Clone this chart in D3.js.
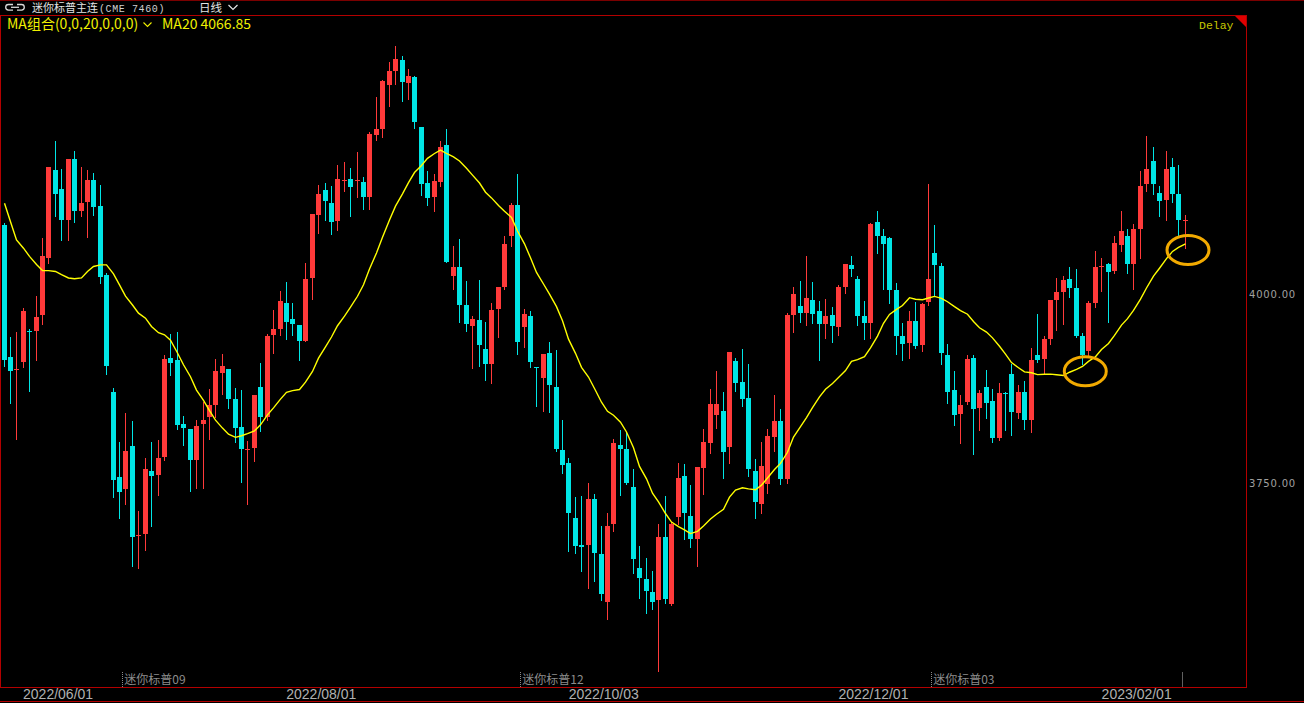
<!DOCTYPE html>
<html><head><meta charset="utf-8">
<script src="https://cdn.jsdelivr.net/npm/d3@7"></script>
<style>html,body{margin:0;padding:0;background:#000;overflow:hidden}</style>
</head><body><svg id="c" width="1304" height="703"></svg>
<script>
// ---------- data ----------
const opens = [4091.2,3916.6,3901.0,3910.7,3951.5,3950.6,3972.0,4047.6,4164.0,4138.7,4097.2,4178.0,4110.1,4121.4,4150.5,4116.0,4025.0,3870.8,3758.1,3743.0,
3799.1,3681.5,3683.2,3766.2,3761.4,3784.5,3915.0,3912.3,3828.2,3822.3,3780.8,3828.2,3837.4,3853.5,3896.1,3900.4,3861.1,3824.4,3794.8,3797.0,
3877.8,3837.9,3946.2,3953.8,3987.8,3966.7,3959.2,3938.2,4021.2,4104.7,4137.6,4120.3,4096.6,4150.5,4151.6,4150.0,4147.8,4127.9,4209.8,4217.9,
4276.6,4294.4,4309.0,4278.8,4286.4,4220.6,4146.8,4127.9,4147.8,4197.4,4024.4,4035.2,3986.1,3958.1,3966.2,3927.9,3907.0,3980.2,4009.3,4076.7,
4117.6,3957.0,3971.0,3903.6,3889.6,3922.5,3877.8,3793.7,3776.5,3704.8,3668.5,3668.1,3729.0,3656.3,3592.7,3696.2,3800.7,3795.9,3745.2,3638.0,
3623.4,3606.7,3595.9,3679.4,3590.5,3705.8,3759.8,3707.0,3676.7,3770.5,3802.9,3840.6,3844.9,3798.0,3911.7,3883.7,3862.7,3766.2,3722.5,3749.5,
3811.5,3832.5,3756.0,3972.7,3984.0,3974.3,3992.1,3977.5,3960.8,3972.1,3957.0,4009.3,4038.4,4019.5,3971.6,3961.9,4094.5,4077.2,4074.0,4005.5,
3944.6,3935.5,3964.6,3932.8,3988.8,4054.0,4036.8,3919.3,3873.5,3841.7,3856.8,3915.0,3849.8,3877.3,3858.4,3809.9,3869.2,3894.5,3842.2,3870.8,
3833.0,3918.8,3913.9,3940.9,3991.5,4002.8,4019.5,4007.7,3944.6,3924.7,3987.8,4036.8,4039.0,4029.8,4064.8,4076.7,4039.0,4085.8,4145.7,4175.9,
4133.3,4123.6,4167.2,4132.2,4097.7];
const highs = [4094.0,3943.0,3950.0,3982.0,3954.3,3997.4,4073.4,4168.0,4202.3,4164.5,4178.0,4188.8,4167.8,4164.0,4160.2,4144.0,4028.2,3876.2,3804.5,3843.3,
3832.5,3713.4,3782.9,3804.5,3807.0,3919.8,3947.3,3950.0,3839.5,3822.3,3833.0,3857.3,3874.6,3913.9,3921.4,3901.5,3876.2,3873.5,3806.1,3866.5,
3909.1,3947.3,3978.6,4003.9,4015.8,3988.3,3959.2,4041.6,4105.2,4144.0,4146.8,4143.0,4170.0,4173.7,4166.2,4187.7,4154.3,4213.6,4260.0,4283.1,
4305.8,4327.9,4314.9,4296.6,4288.0,4220.6,4161.8,4158.6,4201.7,4217.4,4063.2,4072.4,4017.4,3970.5,4019.0,3963.5,3987.8,4009.3,4076.7,4119.8,
4158.6,3980.7,3977.5,3904.2,3921.4,3936.5,3925.8,3833.0,3783.0,3731.7,3732.8,3750.6,3736.0,3694.0,3710.2,3808.3,3820.6,3818.0,3769.5,3667.0,
3652.0,3634.7,3696.7,3733.3,3699.4,3776.5,3774.9,3747.9,3771.6,3821.7,3874.6,3897.7,3870.8,3923.1,3915.0,3927.4,3906.9,3781.8,3804.5,3822.3,
3866.5,3848.7,3974.3,4009.3,4017.4,4050.8,4015.8,3990.4,3993.1,3982.4,4012.0,4040.0,4049.7,4023.9,3990.4,4093.9,4110.1,4085.8,4075.1,4014.2,
3961.9,3977.5,3989.4,3987.8,4145.7,4091.2,4041.6,3933.8,3897.7,3866.5,3918.8,3919.3,3873.0,3899.9,3874.6,3882.6,3870.8,3906.9,3880.0,3885.4,
3928.5,3973.2,3944.6,3992.1,4021.2,4023.9,4035.7,4033.6,3948.4,3990.4,4056.7,4047.0,4041.6,4076.7,4109.0,4085.8,4091.8,4162.9,4208.7,4194.2,
4142.4,4188.8,4179.1,4170.5,4104.7];
const lows = [3905.0,3855.7,3808.0,3904.0,3871.9,3913.4,3960.8,4041.6,4102.6,4071.3,4071.3,4095.5,4103.6,4075.1,4104.7,4014.7,3894.5,3731.7,3704.8,3722.6,
3641.2,3638.5,3661.7,3693.0,3734.4,3781.3,3892.4,3821.7,3800.7,3739.8,3743.6,3743.6,3808.3,3837.4,3868.1,3849.2,3804.5,3752.2,3723.1,3779.7,
3819.1,3834.1,3922.0,3946.2,3940.9,3945.2,3913.4,3938.2,3993.7,4081.0,4097.2,4079.4,4084.8,4136.0,4103.6,4127.9,4112.8,4112.8,4202.8,4207.1,
4248.1,4277.2,4254.6,4257.3,4219.5,4130.6,4117.6,4110.1,4142.4,4042.7,4006.6,3963.5,3951.6,3902.6,3905.3,3887.0,3882.6,3943.0,4006.6,4063.2,
3920.4,3930.1,3904.2,3851.9,3846.0,3843.8,3792.1,3763.0,3660.6,3657.9,3634.7,3612.1,3621.3,3595.9,3571.1,3687.0,3734.4,3749.5,3632.0,3598.6,
3578.1,3584.6,3501.6,3591.6,3588.9,3696.7,3676.7,3666.0,3641.2,3736.0,3789.4,3823.4,3757.6,3776.5,3871.9,3851.9,3759.8,3703.7,3710.2,3737.1,
3792.1,3749.5,3750.6,3950.0,3962.4,3959.2,3961.9,3912.3,3941.9,3936.5,3945.2,4001.2,4024.4,3959.7,3940.3,3942.0,4054.0,4006.6,3987.8,3921.4,
3913.4,3916.1,3928.5,3924.1,3985.1,3997.0,3908.0,3855.7,3827.6,3802.9,3854.1,3788.3,3820.6,3836.8,3804.5,3807.2,3820.6,3813.6,3836.8,3822.3,
3818.0,3909.6,3896.1,3933.8,3952.7,3960.8,3995.8,3943.0,3906.9,3917.7,3982.4,4003.9,3963.5,4027.1,4056.2,4028.2,4006.6,4048.1,4136.0,4131.7,
4102.6,4098.2,4120.9,4077.8,4060.5];
const closes = [3913.4,3897.7,3901.5,3977.5,3950.0,3969.4,4050.3,4167.8,4131.7,4097.2,4178.0,4109.0,4120.3,4150.5,4115.5,4022.8,3905.3,3753.8,3738.7,3793.2,
3679.4,3682.0,3768.9,3760.3,3784.0,3914.0,3909.0,3827.1,3822.8,3780.8,3825.5,3833.6,3853.5,3898.3,3905.3,3861.1,3823.4,3795.9,3795.3,3866.5,
3837.9,3944.6,3953.8,3991.0,3962.4,3960.8,3938.2,4020.1,4105.2,4132.2,4122.5,4095.5,4152.1,4151.0,4141.4,4150.5,4127.9,4211.4,4218.4,4281.5,
4294.4,4310.1,4279.9,4288.0,4227.6,4145.7,4126.8,4148.9,4194.7,4042.7,4035.2,3986.1,3960.8,3967.3,3932.8,3908.0,3978.6,4009.3,4065.9,4117.6,
3936.5,3973.2,3909.6,3903.1,3921.4,3879.4,3795.9,3773.8,3711.2,3667.1,3666.5,3729.0,3658.4,3603.4,3694.0,3802.9,3795.9,3750.6,3649.8,3625.5,
3607.8,3592.7,3679.4,3597.0,3696.7,3757.1,3710.2,3676.7,3771.6,3804.5,3854.1,3854.1,3791.0,3923.1,3882.6,3861.1,3768.4,3725.2,3772.2,3812.6,
3832.5,3756.0,3972.7,3999.6,3974.3,3994.8,3973.2,3960.8,3971.0,3958.1,4009.3,4039.0,4033.6,3971.0,3961.9,4092.3,4076.7,4065.9,4005.5,3944.6,
3933.8,3964.6,3931.2,3986.7,4020.1,4037.9,3922.0,3870.8,3840.6,3853.0,3914.0,3847.6,3868.6,3855.7,3809.9,3869.2,3868.6,3843.8,3870.8,3833.0,
3912.8,3913.4,3940.3,3992.1,4002.8,4018.5,4007.7,3944.6,3919.3,3987.8,4036.3,4037.3,4029.3,4067.5,4083.7,4039.0,4085.8,4142.4,4165.1,4145.7,
4122.5,4165.6,4131.7,4097.2,4098.2];
// MA20 values before enough bars are visible
const maHead = [4119.8,4095.5,4071.3,4060.5,4049.7,4039.0,4030.9,4030.9,4029.8,4025.5,4021.2,4020.1,4021.2,4029.8,4036.3,4038.4,4038.4,4026.6,4012.0];
const maPeriod = 20;
const tickLabels = ["2022/06/01","2022/08/01","2022/10/03","2022/12/01","2023/02/01"];
const tickIndex = [9,50,94,136,177];
const contractLabels = ["迷你标普09","迷你标普12","迷你标普03"];
const contractIndex = [19,81,145];
const priceTicks = [3750,4000];
const markIndex = [168.5,184.5];
const markPrice = [3898,4058];
const titleName = "迷你标普主连";
const titleCode = "(CME  7460)";
const periodLabel = "日线";
const maLabel = "MA组合(0,0,20,0,0,0)";
const maValueLabel = "MA20 4066.85";

// ---------- drawing ----------
const W = 1304, H = 703;
const plot = {left:1, right:1246, top:16, bottom:687};
const svg = d3.select("#c");
svg.append("rect").attr("width",W).attr("height",H).attr("fill","#000");

const n = closes.length;
const x = d3.scaleBand().domain(d3.range(n)).range([0.3, 0.3 + n*6.42]).padding(0);
const step = x.step();
const y = d3.scaleLinear().domain([3750,4000]).range([483.3,294]);
const cx = i => Math.round(x(i) + step/2) + 0.5;
const xf = v => 0.3 + v*step + step/2; // fractional index position

const RED = "#ff3a3a", CYAN = "#00e6e6";
const frame = "#b30000";

svg.append("defs").append("clipPath").attr("id","clip")
  .append("rect").attr("x",plot.left+1).attr("y",plot.top+1)
  .attr("width",plot.right-plot.left-1).attr("height",plot.bottom-plot.top-1);

const g = svg.append("g").attr("clip-path","url(#clip)");
const idx = d3.range(n);
g.selectAll("line.wick").data(idx).join("line")
  .attr("x1",cx).attr("x2",cx)
  .attr("y1",i=>Math.round(y(highs[i]))).attr("y2",i=>Math.round(y(lows[i]))+1)
  .attr("stroke",i=>closes[i]>=opens[i]?RED:CYAN).attr("stroke-width",1);
g.selectAll("rect.body").data(idx).join("rect")
  .attr("x",i=>cx(i)-2.5).attr("width",5)
  .attr("y",i=>Math.round(y(Math.max(opens[i],closes[i]))))
  .attr("height",i=>Math.max(1,Math.round(y(Math.min(opens[i],closes[i])))-Math.round(y(Math.max(opens[i],closes[i])))))
  .attr("fill",i=>closes[i]>=opens[i]?RED:CYAN);

// MA20
const ma = idx.map(i => i < maPeriod-1 ? maHead[i] : d3.mean(closes.slice(i-maPeriod+1,i+1)));
g.append("path").datum(idx)
  .attr("d", d3.line().x(i=>cx(i)).y(i=>y(ma[i])))
  .attr("fill","none").attr("stroke","#ffff00").attr("stroke-width",1.4);

// annotation ellipses
svg.selectAll("ellipse.mark").data(d3.range(markIndex.length)).join("ellipse")
  .attr("cx",k=>xf(markIndex[k])).attr("cy",k=>y(markPrice[k]))
  .attr("rx",21).attr("ry",14.5)
  .attr("fill","none").attr("stroke","#f2aa00").attr("stroke-width",3);

// frame lines
svg.append("line").attr("x1",0).attr("x2",W).attr("y1",0.5).attr("y2",0.5).attr("stroke","#7a0000");
svg.append("line").attr("x1",0).attr("x2",plot.right).attr("y1",plot.top-0.5).attr("y2",plot.top-0.5).attr("stroke",frame);
svg.append("line").attr("x1",0.5).attr("x2",0.5).attr("y1",plot.top).attr("y2",plot.bottom).attr("stroke",frame);
svg.append("line").attr("x1",plot.right+0.5).attr("x2",plot.right+0.5).attr("y1",plot.top-1).attr("y2",plot.bottom+1).attr("stroke",frame);
svg.append("line").attr("x1",0).attr("x2",plot.right+1).attr("y1",plot.bottom+0.5).attr("y2",plot.bottom+0.5).attr("stroke",frame);
svg.append("line").attr("x1",0).attr("x2",W).attr("y1",701.5).attr("y2",701.5).attr("stroke",frame);
svg.append("path").attr("d",`M${plot.right-11},${plot.top} L${plot.right},${plot.top} L${plot.right},${plot.top+11} Z`).attr("fill","#e00000");

// price axis labels
svg.selectAll("text.py").data(priceTicks).join("text")
  .attr("x",1249).attr("y",p=>y(p)).attr("dy","0.35em")
  .attr("font-family","DejaVu Sans").attr("font-size",10).attr("letter-spacing",0.8)
  .attr("fill","#a0a0a0").text(p=>p.toFixed(2));

// date labels
svg.selectAll("text.dx").data(d3.range(tickLabels.length)).join("text")
  .attr("x",k=>x(tickIndex[k])).attr("y",699).attr("text-anchor","middle")
  .attr("font-family","Liberation Sans").attr("font-size",14)
  .attr("fill","#b0b0b0").text(k=>tickLabels[k]);

// contract roll markers
svg.selectAll("line.roll").data(d3.range(contractLabels.length)).join("line")
  .attr("x1",k=>Math.round(x(contractIndex[k]))+0.5).attr("x2",k=>Math.round(x(contractIndex[k]))+0.5)
  .attr("y1",672).attr("y2",687).attr("stroke","#8a8a8a").attr("stroke-dasharray","1,1");
svg.selectAll("text.roll").data(d3.range(contractLabels.length)).join("text")
  .attr("x",k=>x(contractIndex[k])+2).attr("y",684)
  .attr("font-family","Noto Sans CJK SC").attr("font-size",12)
  .attr("fill","#8c8c8c").text(k=>contractLabels[k]);
svg.append("line").attr("x1",Math.round(x(n-1))+0.5).attr("x2",Math.round(x(n-1))+0.5)
  .attr("y1",672).attr("y2",687).attr("stroke","#606060");

// header
const ic = svg.append("g").attr("fill","none").attr("stroke","#d8d8d8").attr("stroke-width",1.3);
ic.append("path").attr("d","M13,4.5 H8.5 a2.8,2.8 0 0 0 0,5.6 H13");
ic.append("path").attr("d","M17,4.5 H21.5 a2.8,2.8 0 0 1 0,5.6 H17");
ic.append("line").attr("x1",11).attr("x2",19).attr("y1",7.3).attr("y2",7.3);
svg.append("text").attr("x",32).attr("y",12).attr("font-family","Noto Sans CJK SC")
  .attr("font-size",11).attr("fill","#e4e4e4").text(titleName);
svg.append("text").attr("x",99).attr("y",11.5).attr("font-family","Liberation Mono")
  .attr("font-size",10).attr("letter-spacing",0.6).attr("fill","#d0d0d0").text(titleCode);
svg.append("text").attr("x",199).attr("y",12).attr("font-family","Noto Sans CJK SC")
  .attr("font-size",11.5).attr("fill","#e4e4e4").text(periodLabel);
svg.append("path").attr("d","M228.5,5 L233,9.5 L237.5,5").attr("fill","none").attr("stroke","#e4e4e4").attr("stroke-width",1.2);

svg.append("text").attr("x",7).attr("y",29).attr("font-family","Noto Sans CJK SC")
  .attr("font-size",14).attr("fill","#f0f000").text(maLabel);
svg.append("path").attr("d","M143.5,22.5 L147.5,26.5 L151.5,22.5").attr("fill","none").attr("stroke","#f0f000").attr("stroke-width",1.1);
svg.append("text").attr("x",162).attr("y",29).attr("font-family","Noto Sans CJK SC")
  .attr("font-size",14).attr("fill","#f0f000").text(maValueLabel);
svg.append("text").attr("x",1199).attr("y",29).attr("font-family","Liberation Mono")
  .attr("font-size",11.5).attr("fill","#c8c800").text("Delay");
</script></body></html>
